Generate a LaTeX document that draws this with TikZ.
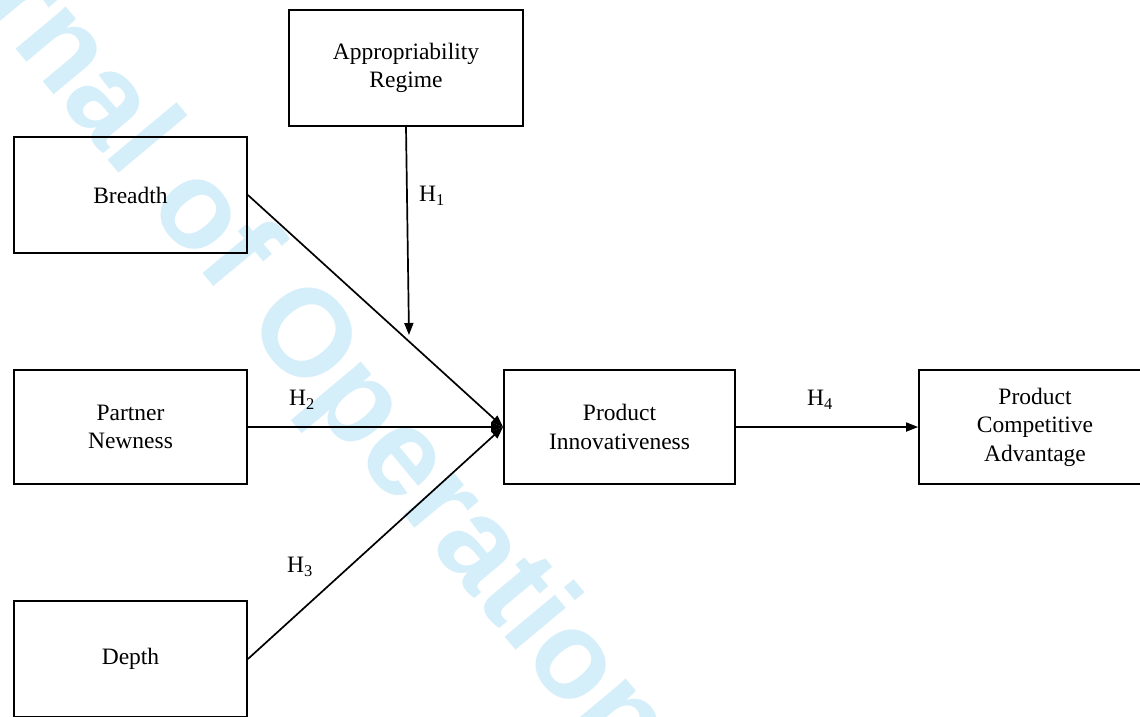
\documentclass[tikz,border=0pt]{standalone}
\usepackage{fontspec}
\setmainfont{Liberation Serif}
\newfontfamily\wmfont{Liberation Sans}
\usetikzlibrary{arrows.meta}
\definecolor{wmblue}{RGB}{212,238,250}
\tikzset{
  box/.style={draw, line width=1.8pt, inner sep=0pt, align=center,
    minimum width=233pt, minimum height=116pt,
    font=\fontsize{23.5}{28.5}\selectfont},
  conn/.style={line width=1.7pt, -{Triangle[length=12pt,width=9pt]}},
  hlab/.style={inner sep=0pt, font=\fontsize{23.5}{27}\selectfont},
  wm/.style={wmblue, inner sep=0pt, rotate=-50.2, anchor=base west,
    font=\wmfont\bfseries\fontsize{124}{124}\selectfont}
}
\begin{document}
\begin{tikzpicture}[x=1pt,y=-1pt]
\useasboundingbox (0,0) rectangle (1140,716);
\clip (0,0) rectangle (1140,716);
\fill[white] (0,0) rectangle (1140,716);
\node[wm] (wmark) at (-162,-164) {Journal of Operations Management};
\node[box, minimum width=234pt] (ar) at (406,68) {Appropriability\\Regime};
\node[box] (br) at (130.5,195) {Breadth};
\node[box, minimum height=114pt] (pn) at (130.5,427) {Partner\\Newness};
\node[box] (dp) at (130.5,659) {Depth};
\node[box, minimum width=231pt, minimum height=114pt] (pi) at (619.5,427) {Product\\Innovativeness};
\node[box, minimum width=232pt, minimum height=114pt] (pca) at (1035,427) {Product\\Competitive\\Advantage};
\coordinate (h1end) at (409,335);
\draw[conn] (ar.south) -- (h1end);
\draw[conn] (br.east) -- (pi.west);
\draw[conn] (pn.east) -- (pi.west);
\draw[conn] (dp.east) -- (pi.west);
\draw[conn] (pi.east) -- (pca.west);
\node[hlab] (h1) at (432,196) {H\textsubscript{1}};
\node[hlab] (h2) at (302,400) {H\textsubscript{2}};
\node[hlab] (h3) at (300,567) {H\textsubscript{3}};
\node[hlab] (h4) at (820,400) {H\textsubscript{4}};
\end{tikzpicture}
\end{document}
